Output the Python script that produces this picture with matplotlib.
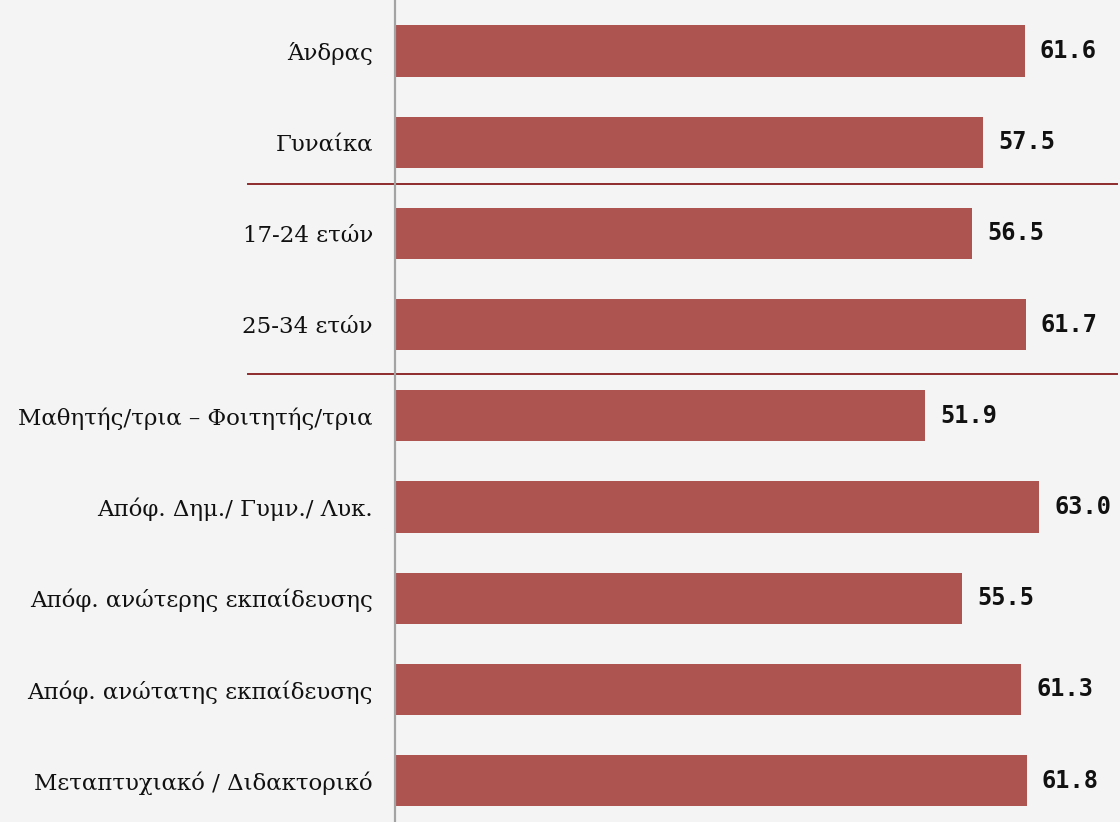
import matplotlib
matplotlib.use("Agg")
import matplotlib.pyplot as plt

categories = [
    "Άνδρας",
    "Γυναίκα",
    "17-24 ετών",
    "25-34 ετών",
    "Μαθητής/τρια – Φοιτητής/τρια",
    "Απόφ. Δημ./ Γυμν./ Λυκ.",
    "Απόφ. ανώτερης εκπαίδευσης",
    "Απόφ. ανώτατης εκπαίδευσης",
    "Μεταπτυχιακό / Διδακτορικό",
]
values = [61.6, 57.5, 56.5, 61.7, 51.9, 63.0, 55.5, 61.3, 61.8]
value_labels = ["61.6", "57.5", "56.5", "61.7", "51.9", "63.0", "55.5", "61.3", "61.8"]
separators = [1.46, 3.54]

BG = "#f4f4f4"
BAR = "#ad5350"
SEP = "#8e2b2b"

fig = plt.figure(figsize=(11.2, 8.22), dpi=100, facecolor=BG)
ax = fig.add_axes([395 / 1120, 0, 1 - 395 / 1120, 1])
ax.set_facecolor(BG)

y = list(range(len(categories)))
ax.barh(y, values, height=0.56, color=BAR, zorder=2)

ax.set_xlim(0, 70.94)
ax.set_ylim(8.454, -0.559)

for s in ["top", "right", "bottom"]:
    ax.spines[s].set_visible(False)
ax.spines["left"].set_color("#a3a3a3")
ax.spines["left"].set_linewidth(1.6)
ax.spines["left"].set_zorder(3)

ax.set_xticks([])
ax.set_yticks(y)
ax.set_yticklabels(categories, fontfamily="DejaVu Serif", fontsize=16.5, color="#111111")
ax.tick_params(axis="y", length=0, pad=16)

for yi, v, lab in zip(y, values, value_labels):
    ax.annotate(lab, (v, yi), xytext=(11, 0), textcoords="offset points",
                ha="left", va="center", fontfamily="DejaVu Sans Mono",
                fontweight="bold", fontsize=17, color="#111111")

for sy in separators:
    ax.plot([-14.4, 70.65], [sy, sy], color=SEP, lw=1.4, clip_on=False, zorder=1)

fig.savefig("out.png", dpi=100, facecolor=BG)
